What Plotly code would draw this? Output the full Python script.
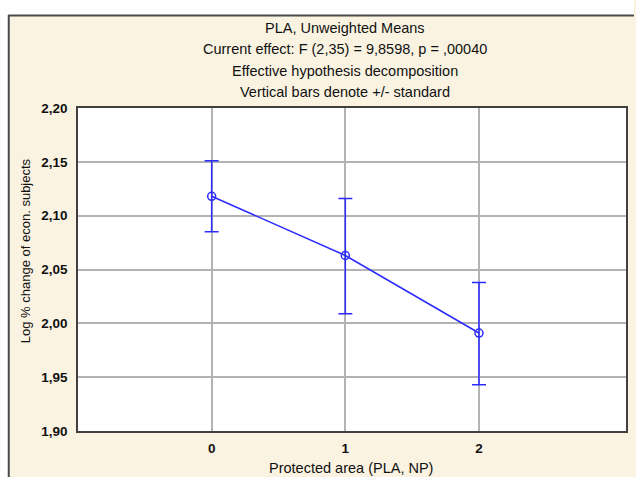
import plotly.graph_objects as go

# ---- data ----
categories = [0, 1, 2]
means = [2.118, 2.063, 1.991]
err_plus = [0.033, 0.053, 0.047]
err_minus = [0.033, 0.054, 0.048]
y_tick_values = [1.90, 1.95, 2.00, 2.05, 2.10, 2.15, 2.20]
y_tick_labels = ["1,90", "1,95", "2,00", "2,05", "2,10", "2,15", "2,20"]
x_tick_labels = ["0", "1", "2"]
title_lines = [
    "PLA, Unweighted Means",
    "Current effect: F (2,35) = 9,8598, p = ,00040",
    "Effective hypothesis decomposition",
    "Vertical bars denote +/- standard",
]
x_title = "Protected area (PLA, NP)"
y_title = "Log % change of econ. subjects"

W, H = 636, 477
L, R, T, B = 78, 8, 108, 46
pw, ph = W - L - R, H - T - B

def px(x):
    return (x - L) / pw

def py(y):
    return (H - B - y) / ph

BLUE = "#2b2bff"
BEIGE = "#fbf3e2"
FONT = "Liberation Sans, Arial, sans-serif"

fig = go.Figure()
fig.add_trace(go.Scatter(
    x=categories, y=means, mode="lines+markers",
    line=dict(color=BLUE, width=1.5),
    marker=dict(symbol="circle-open", size=8, color=BLUE, line=dict(width=1.5, color=BLUE)),
    error_y=dict(type="data", symmetric=False, array=err_plus, arrayminus=err_minus,
                 color=BLUE, thickness=1.5, width=7),
    showlegend=False,
))

annotations = []
for i, t in enumerate(title_lines):
    annotations.append(dict(text=t, x=px(346), y=py(28 + i * 21.3), xref="paper", yref="paper",
                            showarrow=False, xanchor="center", yanchor="middle",
                            font=dict(family=FONT, size=14.5, color="#111111")))
annotations.append(dict(text=x_title, x=px(352), y=py(468), xref="paper", yref="paper",
                        showarrow=False, xanchor="center", yanchor="middle",
                        font=dict(family=FONT, size=14.5, color="#111111")))
annotations.append(dict(text=y_title, x=px(25), y=py(251), xref="paper", yref="paper",
                        showarrow=False, xanchor="center", yanchor="middle", textangle=-90,
                        font=dict(family=FONT, size=13, color="#111111")))

shapes = [
    dict(type="rect", xref="paper", yref="paper", x0=px(0), x1=px(W), y0=py(0), y1=py(15),
         fillcolor="white", line=dict(width=0), layer="below"),
    dict(type="rect", xref="paper", yref="paper", x0=px(0), x1=px(8), y0=py(0), y1=py(H),
         fillcolor="white", line=dict(width=0), layer="below"),
    dict(type="line", xref="paper", yref="paper", x0=px(8), x1=px(W), y0=py(15.5), y1=py(15.5),
         line=dict(color="#4a4a4a", width=2)),
    dict(type="line", xref="paper", yref="paper", x0=px(8.5), x1=px(8.5), y0=py(15), y1=py(H),
         line=dict(color="#4a4a4a", width=2)),
]

fig.update_layout(
    width=W, height=H,
    margin=dict(l=L, r=R, t=T, b=B, pad=0),
    paper_bgcolor=BEIGE, plot_bgcolor="white",
    font=dict(family=FONT, color="#111111"),
    annotations=annotations, shapes=shapes,
    xaxis=dict(range=[-1, 3.1], tickvals=categories, ticktext=x_tick_labels,
               showgrid=True, gridcolor="#b3b3b3", gridwidth=1.5,
               showline=True, linecolor="#404040", linewidth=1.5, mirror=True,
               ticks="", ticklabelstandoff=4, zeroline=False,
               tickfont=dict(family=FONT, size=13.5, color="#111111", weight="bold")),
    yaxis=dict(range=[1.90, 2.20], tickvals=y_tick_values, ticktext=y_tick_labels,
               showgrid=True, gridcolor="#b3b3b3", gridwidth=1.5,
               showline=True, linecolor="#404040", linewidth=1.5, mirror=True,
               ticks="", ticklabelstandoff=6, zeroline=False,
               tickfont=dict(family=FONT, size=13.5, color="#111111", weight="bold")),
)

fig.write_html("out.html", config={"displayModeBar": False},
               post_script="document.body.style.margin='0';document.body.style.overflow='hidden';")
